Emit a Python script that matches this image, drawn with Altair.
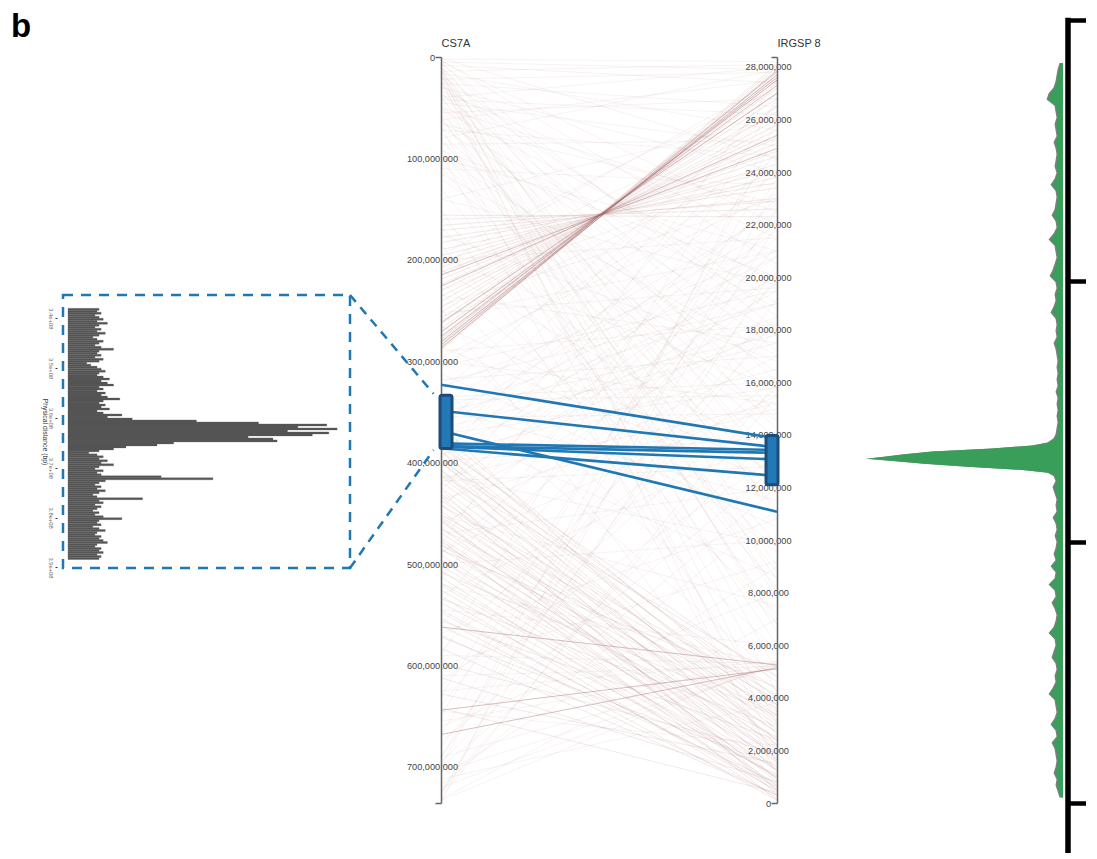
import altair as alt
import pandas as pd

# ---------------- data ----------------
CS_MAX = 735.5e6          # CS7A length (bp)
IR_MAX = 28.38e6          # IRGSP chr 8 length (bp)
CS_TICKS = [0, 100e6, 200e6, 300e6, 400e6, 500e6, 600e6, 700e6]
IR_TICKS = [0, 2e6, 4e6, 6e6, 8e6, 10e6, 12e6, 14e6, 16e6, 18e6, 20e6, 22e6, 24e6, 26e6, 28e6]

# syntenic links, positions in Mb (CS7A -> IRGSP 8)
FAINT_CS = [2, 5, 8, 14, 22, 40, 62, 80, 3, 5, 7, 9, 11, 12, 15, 18, 20, 24, 27, 30, 33, 36, 40, 44, 48,
            52, 57, 61, 66, 70, 75, 80, 86, 92, 98, 104, 110, 16, 26, 45, 55, 68, 88, 95,
            120, 130, 140, 150, 160, 175, 185, 195, 210, 222, 235, 248, 255, 265, 275, 290, 300, 305,
            312, 320, 330, 335, 342, 350, 355, 362, 368, 372, 378, 385, 392, 398, 405, 412, 420, 428,
            436, 445, 452, 460, 470, 480, 490, 500, 515, 530, 545, 560, 575, 590, 600, 615, 630, 645,
            660, 675, 690, 700, 712, 725, 732,
            305, 318, 326, 338, 346, 358, 366, 376, 390, 402, 415, 425,
            205, 215, 230, 245, 200, 260,
            520, 590, 610, 625, 655, 690, 705, 720, 733,
            700, 725, 730, 690, 710, 680, 735, 650,
            1, 4, 6, 10, 13, 17, 19, 23, 28, 34, 38, 42, 50, 58, 64, 72, 84, 100, 108, 115,
            140, 168, 198, 232, 252, 286, 296, 326, 346, 364, 395, 418, 440, 466, 488, 510, 538,
            568, 585, 620, 640, 668, 695, 718, 728]
FAINT_IR = [28.2, 27.9, 27.4, 28.1, 27.8, 28.0, 27.5, 27.9, 20.5, 16.0, 12.5, 9.0, 6.5, 3.0, 1.0, 18.5, 14.2,
            10.8, 7.8, 24.0, 21.5, 17.2, 13.0, 8.5, 4.2, 19.8, 15.5, 11.2, 22.8, 17.8, 13.8, 9.8, 25.2,
            20.0, 16.4, 12.2, 23.5, 25.6, 26.5, 25.0, 26.8, 2.5, 6.0, 1.5,
            14.5, 8.2, 19.7, 3.5, 11.8, 16.8, 6.8, 27.2, 13.2, 9.5, 17.5, 1.8, 21.0, 12.6, 5.8, 18.2, 15.2,
            24.2, 10.5, 19.0, 26.5, 16.0, 22.5, 17.8, 14.8, 20.8, 27.0, 15.8, 24.0, 18.5, 16.5, 13.9, 21.8,
            9.8, 19.5, 26.0, 15.0, 23.0, 7.5, 17.0, 12.0, 27.5, 20.2, 10.0, 24.8, 14.0, 6.0, 21.2, 16.2,
            26.8, 9.2, 13.2, 23.8, 2.2, 8.0, 12.8, 19.2, 25.5, 3.8, 15.5, 7.0,
            19.5, 17.0, 21.0, 15.5, 19.0, 22.0, 17.5, 20.0, 22.8, 18.0, 15.2, 20.8,
            27.5, 26.2, 24.0, 23.0, 21.5, 24.5,
            5.2, 5.3, 5.2, 5.4, 5.3, 5.25, 5.2, 5.3, 5.4,
            12.0, 20.5, 16.0, 22.0, 9.0, 18.5, 26.0, 24.5,
            24.5, 22.0, 18.0, 14.8, 11.0, 8.0, 5.0, 2.0, 19.0, 12.0, 6.8, 26.2, 22.5, 7.0, 18.8, 24.6,
            14.6, 21.0, 8.8, 17.0,
            26.0, 9.6, 15.8, 7.2, 19.6, 12.2, 23.2, 4.8, 11.5, 8.6, 26.6, 12.8, 18.2, 21.5, 15.5, 19.8,
            22.2, 10.8, 18.0, 15.8, 20.0, 22.6, 14.2, 11.2, 23.5]

MED_CS = [156, 160, 166, 171, 178, 183, 190, 196, 201, 207, 212, 219, 224, 230, 236, 241, 247, 252, 258,
          263, 268, 272, 275, 278, 281, 283, 285, 287, 289, 279,
          372.7, 377.6, 382.5, 389.4, 395.3, 400.3, 407.2, 413.1, 419.0, 424.9, 430.8, 436.8, 441.7,
          447.6, 453.5, 458.4, 464.4, 469.3, 474.2, 480.1, 485.1, 491.0, 495.9, 501.8, 506.8, 512.7,
          518.6, 525.5, 531.4, 538.3, 545.2, 553.1, 561.0, 569.9, 387.5, 407.2, 426.9, 456.5, 476.2,
          397.3, 451.5, 481.1, 441.7, 362.8,
          455, 465, 478, 486, 497, 508, 521, 534, 548, 556, 572, 583, 598, 612, 628, 642, 385, 398,
          412, 433]
MED_IR = [22.3, 22.6, 22.9, 23.0, 23.4, 23.6, 23.8, 24.1, 24.3, 24.6, 24.8, 25.1, 25.3, 25.6, 25.8, 26.0,
          26.3, 26.5, 26.8, 27.0, 27.2, 27.4, 27.5, 27.6, 27.7, 27.8, 27.9, 28.0, 28.1, 27.8,
          3.73, 3.16, 3.99, 3.46, 2.78, 3.73, 3.08, 2.40, 3.35, 2.66, 2.09, 2.97, 2.40, 1.71, 2.70, 2.02,
          1.33, 2.21, 1.56, 0.95, 1.83, 1.26, 0.68, 1.64, 0.95, 0.42, 1.26, 0.65, 0.19, 1.07, 0.49, 0.11,
          0.76, 0.30, 1.64, 0.87, 0.30, 0.49, 0.11, 4.30, 3.92, 3.35, 4.10, 2.20,
          0.8, 3.6, 1.9, 4.4, 2.5, 3.3, 1.0, 2.9, 0.6, 2.4, 1.4, 0.3, 1.9, 0.8, 1.5, 0.4, 4.6, 1.2,
          4.8, 0.5]

DARK_CS = [287, 284, 281, 276, 271, 262, 226, 215, 562, 644, 668]
DARK_IR = [27.85, 27.7, 27.6, 27.5, 27.3, 27.0, 25.4, 24.9, 5.25, 5.1, 5.15]

# highlighted links (Mb)
SEL_CS = [323.1, 348.7, 368.7, 380.9, 383.5, 384.2, 385.8]
SEL_IR = [13.87, 13.53, 11.08, 13.43, 13.32, 13.07, 12.44]

# brushed intervals (bp)
BRUSH_CS = [333.5e6, 386.0e6]
BRUSH_IR = [12.11e6, 13.98e6]

# zoomed histogram (bins of 0.4 Mb from 338 Mb)
HIST_START = 338.0e6
HIST_BIN = 0.4e6
HIST_COUNTS = [15, 14, 16, 13, 15, 17, 14, 19, 15, 13,
               16, 14, 18, 15, 12, 14, 17, 15, 13, 16,
               22, 15, 14, 16, 13, 17, 15, 9, 11, 14,
               16, 18, 15, 14, 17, 20, 16, 19, 22, 15,
               17, 14, 18, 16, 19, 25, 17, 15, 18, 16,
               20, 14, 17, 26, 19,
               31, 62, 92, 125, 111, 130, 106, 126, 118, 87, 99, 101, 51, 43, 28, 22, 15, 10,
               14, 17, 15, 19, 16, 22, 15, 13, 17, 14, 16, 45, 70, 18, 15, 13, 16, 14, 18, 15, 12, 14,
               36, 15, 17, 13, 16, 14, 12, 15, 13, 17, 26, 15, 14, 16, 12, 15, 18, 14, 13, 16, 15, 17,
               19, 14, 13, 16, 15, 17, 14, 16, 15]
HIST_TICKS = [3.4e8, 3.5e8, 3.6e8, 3.7e8, 3.8e8, 3.9e8]

# density along CS7A (position Mb, width)
DEN_POS = (list(range(6, 373, 6))
           + [376, 380, 383, 386, 389, 392, 394, 396, 398, 401, 404, 407, 410, 413]
           + list(range(418, 731, 6)))
DEN_W = ([2, 4, 5, 6, 8, 13, 15, 7, 6, 5, 7, 6, 5, 8, 6, 5, 6, 7, 5, 7,
          11, 6, 5, 6, 7, 10, 6, 5, 8, 13, 7, 6, 5, 7, 9, 12, 6, 5, 7, 6,
          8, 11, 6, 5, 6, 5, 8, 6, 5, 4, 5, 4, 5, 4, 6, 4, 5, 4, 5, 4, 5, 6]
         + [8, 14, 30, 70, 130, 160, 178, 196, 172, 138, 95, 42, 14, 8]
         + [6, 9, 7, 5, 6, 5, 9, 6, 5, 7, 5, 6, 8, 6, 11, 6, 7, 13, 7, 6,
            10, 7, 5, 6, 8, 13, 7, 6, 8, 10, 6, 5, 7, 6, 9, 13, 7, 6, 5, 7,
            11, 6, 5, 10, 7, 6, 5, 6, 8, 5, 6, 4, 2])
DEN_TICKS = [0, 1, 2, 3]

assert len(FAINT_CS) == len(FAINT_IR)
assert len(MED_CS) == len(MED_IR)
assert len(DARK_CS) == len(DARK_IR)
assert len(DEN_POS) == len(DEN_W)

# ---------------- layout (page pixels) ----------------
W, H = 1081, 845


def px(x):
    return x - 8


def py(y):
    return y - 8


AX_L, AX_R = 441, 777          # the two parallel axes
AX_TOP, AX_BOT = 57, 803
BOX = (63, 295, 350, 568)      # inset frame
FONT = "Liberation Sans"
BLUE = "#1f77b4"
NAVY = "#1b4c7c"
LINK_COLOR = "#a86a6a"
COMMA = "format(datum.value, ',.0f')"

X_MAIN = alt.Scale(domain=[0, 1], range=[px(AX_L), px(AX_R)], nice=False, zero=False)
Y_FRAC = alt.Scale(domain=[0, 1], range=[py(AX_TOP), py(AX_BOT)], nice=False, zero=False)


def y_cs():
    return alt.Scale(domain=[0, CS_MAX], range=[py(AX_TOP), py(AX_BOT)], nice=False, zero=False)


def y_ir():
    return alt.Scale(domain=[0, IR_MAX], range=[py(AX_BOT), py(AX_TOP)], nice=False, zero=False)


def link_frame(cs, ir):
    df = pd.DataFrame({"cs": cs, "ir": ir})
    df["f0"] = df["cs"] * 1e6 / CS_MAX
    df["f1"] = 1 - df["ir"] * 1e6 / IR_MAX
    df["a0"] = 0.0
    df["a1"] = 1.0
    return df


def label_axis(offset, values, title):
    return alt.Axis(
        orient="left", offset=offset, values=values, labelExpr=COMMA, labelAlign="center",
        labelBaseline="middle", labelPadding=9, ticks=False, tickSize=0, domain=False, grid=False,
        labelFontSize=9.2, labelColor="#444", labelFont=FONT, labelOverlap=False,
        title=title, titleAngle=0, titleAlign="left", titleBaseline="alphabetic",
        titleX=0, titleY=py(46), titleFontSize=11, titleFontWeight="normal",
        titleColor="#333", titleFont=FONT)


def domain_axis(offset, values):
    return alt.Axis(
        orient="left", offset=offset, values=values, labels=False, ticks=True,
        tickSize=6, tickWidth=1.5, tickColor="#666", domain=True, domainColor="#666",
        domainWidth=1.5, grid=False, title="")


layers = []

# axes (drawn behind)
layers.append(alt.Chart(pd.DataFrame({"v": CS_TICKS})).mark_point(opacity=0).encode(
    y=alt.Y("v:Q", scale=y_cs(), axis=label_axis(-px(AX_L), CS_TICKS, "CS7A"))))
layers.append(alt.Chart(pd.DataFrame({"v": [0, CS_MAX]})).mark_point(opacity=0).encode(
    y=alt.Y("v:Q", scale=y_cs(), axis=domain_axis(-px(AX_L), [0, CS_MAX]))))
layers.append(alt.Chart(pd.DataFrame({"v": IR_TICKS})).mark_point(opacity=0).encode(
    y=alt.Y("v:Q", scale=y_ir(), axis=label_axis(-px(AX_R), IR_TICKS, "IRGSP 8"))))
layers.append(alt.Chart(pd.DataFrame({"v": [0, IR_MAX]})).mark_point(opacity=0).encode(
    y=alt.Y("v:Q", scale=y_ir(), axis=domain_axis(-px(AX_R), [0, IR_MAX]))))

# background links
for cs, ir, op in [(FAINT_CS, FAINT_IR, 0.08), (MED_CS, MED_IR, 0.15), (DARK_CS, DARK_IR, 0.42)]:
    layers.append(alt.Chart(link_frame(cs, ir)).mark_rule(
        color=LINK_COLOR, opacity=op, strokeWidth=1).encode(
        x=alt.X("a0:Q", scale=X_MAIN, axis=None), x2="a1:Q",
        y=alt.Y("f0:Q", scale=Y_FRAC, axis=None), y2="f1:Q"))

# highlighted links
layers.append(alt.Chart(link_frame(SEL_CS, SEL_IR)).mark_rule(
    color=BLUE, strokeWidth=2.6).encode(
    x=alt.X("a0:Q", scale=X_MAIN, axis=None), x2="a1:Q",
    y=alt.Y("f0:Q", scale=Y_FRAC, axis=None), y2="f1:Q"))

# brushes
for axis_pos, (lo, hi), sc in [(0.0, BRUSH_CS, y_cs()), (1.0, BRUSH_IR, y_ir())]:
    layers.append(alt.Chart(pd.DataFrame({"a": [axis_pos], "lo": [lo], "hi": [hi]})).mark_bar(
        orient="vertical", size=12, cornerRadius=2, fill="#2379b6", stroke=NAVY,
        strokeWidth=3).encode(
        x=alt.X("a:Q", scale=X_MAIN, axis=None),
        y=alt.Y("lo:Q", scale=sc, axis=None), y2="hi:Q"))

# inset frame + connectors (frame units: 0..1 across the inset box)
bx0, by0, bx1, by1 = BOX
FRAME_X = alt.Scale(domain=[0, 1], range=[px(bx0), px(bx1)], nice=False, zero=False)
FRAME_Y = alt.Scale(domain=[0, 1], range=[py(by0), py(by1)], nice=False, zero=False)


def cs_page(v):
    return AX_TOP + v / CS_MAX * (AX_BOT - AX_TOP)


brush_left = AX_L - 6 - 1.5
ex = (brush_left - bx0) / (bx1 - bx0)
ey_top = (cs_page(BRUSH_CS[0]) - 1.5 - by0) / (by1 - by0)
ey_bot = (cs_page(BRUSH_CS[1]) + 1.5 - by0) / (by1 - by0)

layers.append(alt.Chart(pd.DataFrame({"x0": [0.0], "x1": [1.0], "y0": [0.0], "y1": [1.0]})).mark_rect(
    fillOpacity=0, stroke=BLUE, strokeWidth=2.5, strokeDash=[10, 8]).encode(
    x=alt.X("x0:Q", scale=FRAME_X, axis=None), x2="x1:Q",
    y=alt.Y("y0:Q", scale=FRAME_Y, axis=None), y2="y1:Q"))
layers.append(alt.Chart(pd.DataFrame({"x0": [1.0, 1.0], "x1": [ex, ex],
                                      "y0": [0.0, 1.0], "y1": [ey_top, ey_bot]})).mark_rule(
    color=BLUE, strokeWidth=2.5, strokeDash=[9, 7]).encode(
    x=alt.X("x0:Q", scale=FRAME_X, axis=None), x2="x1:Q",
    y=alt.Y("y0:Q", scale=FRAME_Y, axis=None), y2="y1:Q"))

# inset histogram
hist_df = pd.DataFrame({"count": HIST_COUNTS})
hist_df["start"] = [HIST_START + i * HIST_BIN for i in range(len(HIST_COUNTS))]
hist_df["end"] = hist_df["start"] + HIST_BIN
layers.append(alt.Chart(hist_df).mark_bar(
    orient="horizontal", color="#555555", stroke="#555555", strokeWidth=0.3).encode(
    x=alt.X("count:Q", scale=alt.Scale(domain=[0, 140], range=[px(68), px(68 + 140 * 2.07)],
                                       nice=False, zero=False), axis=None),
    y=alt.Y("start:Q", scale=alt.Scale(domain=[3.4e8, 3.9e8], range=[py(313.3), py(572.5)],
                                       nice=False, zero=False),
            axis=alt.Axis(orient="left", offset=-px(57), values=HIST_TICKS,
                          labelExpr="format(datum.value / 1e8, '.1f') + 'e+08'",
                          labelAngle=90, labelAlign="center", labelBaseline="middle",
                          labelPadding=5, ticks=True, tickSize=2, tickColor="#333",
                          domain=False, grid=False, labelFontSize=5.8, labelColor="#666",
                          labelFont=FONT, labelOverlap=False,
                          title="Physical distance (bp)", titleAngle=90, titleAlign="center",
                          titleBaseline="middle", titleX=-13, titleY=py((by0 + by1) / 2),
                          titleFontSize=6.8, titleFontWeight="normal", titleColor="#333",
                          titleFont=FONT)),
    y2="end:Q"))

# density along CS7A
den_df = pd.DataFrame({"pos": DEN_POS, "w": DEN_W})
den_df["wg"] = den_df["w"] + 1.5
DEN_X = alt.Scale(domain=[0, 200], range=[px(1063), px(863)], nice=False, zero=False)
DEN_Y = alt.Scale(domain=[0, CS_MAX / 1e6], range=[py(AX_TOP), py(AX_BOT)], nice=False, zero=False)
layers.append(alt.Chart(den_df).mark_area(orient="horizontal", color="#7f7f7f").encode(
    x=alt.X("wg:Q", scale=DEN_X, axis=None, stack=None),
    y=alt.Y("pos:Q", scale=DEN_Y, axis=None)))
layers.append(alt.Chart(den_df).mark_area(orient="horizontal", color="#3a9e5b").encode(
    x=alt.X("w:Q", scale=DEN_X, axis=None, stack=None),
    y=alt.Y("pos:Q", scale=DEN_Y, axis=None)))

# density bracket axis
layers.append(alt.Chart(pd.DataFrame({"v": DEN_TICKS})).mark_point(opacity=0).encode(
    y=alt.Y("v:Q", scale=alt.Scale(domain=[0, 3.19], range=[py(20), py(853)], nice=False, zero=False),
            axis=alt.Axis(orient="right", offset=px(1067.5) - W, values=DEN_TICKS, labels=False,
                          ticks=True, tickSize=18, tickWidth=4.5, tickColor="black",
                          domain=True, domainColor="black", domainWidth=5.5, domainCap="square",
                          grid=False, title=""))))

# panel letter
layers.append(alt.Chart(pd.DataFrame({"t": ["b"]})).mark_text(
    fontSize=33, fontWeight="bold", font=FONT, align="left", baseline="alphabetic",
    color="black").encode(text="t:N", x=alt.value(px(11)), y=alt.value(py(37))))

chart = alt.layer(*layers).resolve_scale(x="independent", y="independent").properties(
    width=W, height=H, padding=0, autosize=alt.AutoSizeParams(type="none")
).configure(
    font=FONT, view=alt.ViewConfig(stroke="transparent", strokeWidth=0)
)

chart.save("out.html", embed_options={"renderer": "svg", "actions": False})
